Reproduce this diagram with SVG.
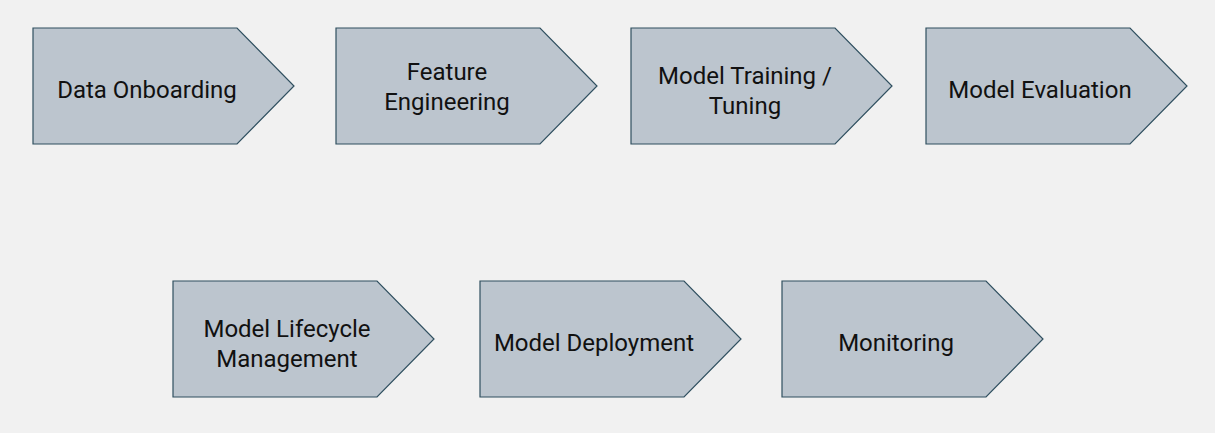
<svg xmlns="http://www.w3.org/2000/svg" width="1215" height="433" viewBox="0 0 1215 433">
  <style>
    .step { fill: #bcc5ce; stroke: #2f4f5f; stroke-width: 1.2; }
    .label { font-family: Roboto, "Liberation Sans", sans-serif; font-size: 24px; fill: #111; text-anchor: middle; }
  </style>
  <rect width="1215" height="433" fill="#f1f1f1"/>
  <g id="connectors"></g>
  <!-- row 1 -->
  <g id="data-onboarding">
    <polygon class="step" points="33,28 237,28 294,86 237,144 33,144"/>
    <text class="label" x="147" y="98">Data Onboarding</text>
  </g>
  <g id="feature-engineering">
    <polygon class="step" points="336,28 540,28 597,86 540,144 336,144"/>
    <text class="label" x="447" y="80">Feature</text>
    <text class="label" x="447" y="110">Engineering</text>
  </g>
  <g id="model-training">
    <polygon class="step" points="631,28 835,28 892,86 835,144 631,144"/>
    <text class="label" x="745" y="84">Model Training /</text>
    <text class="label" x="745" y="114">Tuning</text>
  </g>
  <g id="model-evaluation">
    <polygon class="step" points="926,28 1130,28 1187,86 1130,144 926,144"/>
    <text class="label" x="1040" y="98">Model Evaluation</text>
  </g>
  <!-- row 2 -->
  <g id="model-lifecycle">
    <polygon class="step" points="173,281 377,281 434,339 377,397 173,397"/>
    <text class="label" x="287" y="337">Model Lifecycle</text>
    <text class="label" x="287" y="367">Management</text>
  </g>
  <g id="model-deployment">
    <polygon class="step" points="480,281 684,281 741,339 684,397 480,397"/>
    <text class="label" x="594" y="351">Model Deployment</text>
  </g>
  <g id="monitoring">
    <polygon class="step" points="782,281 986,281 1043,339 986,397 782,397"/>
    <text class="label" x="896" y="351">Monitoring</text>
  </g>
</svg>
